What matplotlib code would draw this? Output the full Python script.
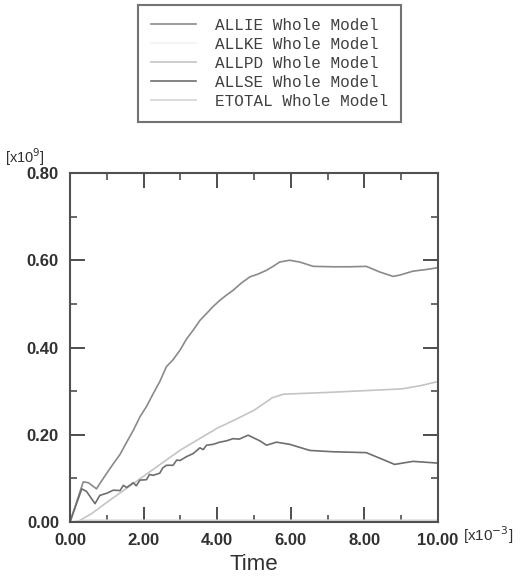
import numpy as np
import matplotlib
matplotlib.use('Agg')
import matplotlib.pyplot as plt
from matplotlib.lines import Line2D
from matplotlib.ticker import MultipleLocator, FormatStrFormatter

# Dados (tempo em x10^-3, energia em x10^9)
t_allie = [0.0, 0.36, 0.5, 0.72, 0.81, 1.0, 1.18, 1.36, 1.54, 1.72, 1.9, 2.08, 2.26, 2.44, 2.62,
           2.8, 2.99, 3.17, 3.35, 3.53, 3.71, 3.89, 4.07, 4.25, 4.43, 4.66, 4.89, 5.1, 5.34, 5.5,
           5.7, 5.97, 6.24, 6.61, 7.15, 7.6, 8.05, 8.42, 8.78, 8.96, 9.32, 9.7, 10.0]
allie = [0.0, 0.092, 0.09, 0.076, 0.088, 0.112, 0.134, 0.155, 0.183, 0.21, 0.241, 0.265, 0.294,
         0.322, 0.356, 0.372, 0.394, 0.42, 0.44, 0.462, 0.478, 0.494, 0.508, 0.52, 0.531, 0.548,
         0.562, 0.568, 0.577, 0.585, 0.596, 0.6, 0.596, 0.586, 0.585, 0.585, 0.586, 0.573,
         0.563, 0.566, 0.575, 0.579, 0.583]

t_allpd = [0.0, 0.2, 0.6, 1.0, 1.5, 2.0, 2.5, 3.0, 3.5, 4.0, 4.5, 5.0, 5.5, 5.8, 7.0, 8.0, 9.0, 9.5, 10.0]
allpd = [0.0, 0.0, 0.02, 0.045, 0.075, 0.105, 0.135, 0.165, 0.19, 0.215, 0.235, 0.256, 0.285,
         0.293, 0.297, 0.301, 0.305, 0.312, 0.322]

t_allse = [0.0, 0.32, 0.45, 0.68, 0.81, 1.0, 1.18, 1.36, 1.45, 1.54, 1.72, 1.8, 1.9, 2.08, 2.16,
           2.26, 2.44, 2.52, 2.62, 2.8, 2.9, 2.99, 3.17, 3.35, 3.53, 3.62, 3.71, 3.89, 4.07, 4.25,
           4.43, 4.6, 4.84, 5.16, 5.34, 5.61, 5.97, 6.52, 7.15, 8.05, 8.51, 8.82, 9.32, 10.0]
allse = [0.0, 0.076, 0.07, 0.042, 0.061, 0.066, 0.073, 0.072, 0.084, 0.079, 0.09, 0.083, 0.096,
         0.097, 0.109, 0.107, 0.112, 0.124, 0.13, 0.13, 0.142, 0.141, 0.15, 0.157, 0.17, 0.166,
         0.176, 0.178, 0.183, 0.186, 0.191, 0.19, 0.199, 0.186, 0.176, 0.183, 0.178, 0.164,
         0.161, 0.159, 0.143, 0.132, 0.139, 0.135]

t_allke = [0.0, 0.3, 1.0, 10.0]
allke = [0.0, 0.004, 0.002, 0.002]

t_etotal = [0.0, 0.5, 2.0, 10.0]
etotal = [0.0, 0.004, 0.004, 0.004]

rotulos = ['ALLIE Whole Model', 'ALLKE Whole Model', 'ALLPD Whole Model',
           'ALLSE Whole Model', 'ETOTAL Whole Model']
cores = ['#8a8a8a', '#f2f2f2', '#c4c4c4', '#6e6e6e', '#d6d6d6']

fig = plt.figure(figsize=(5.23, 5.80), dpi=100)
ax = fig.add_axes([70 / 523, 58 / 580, 368 / 523, 349 / 580])

series = [(t_allie, allie), (t_allke, allke), (t_allpd, allpd), (t_allse, allse), (t_etotal, etotal)]
for (t, v), c, r in zip(series, cores, rotulos):
    ax.plot(t, v, color=c, lw=1.2, label=r)

ax.set_xlim(0, 10)
ax.set_ylim(0, 0.8)
ax.xaxis.set_major_locator(MultipleLocator(2))
ax.xaxis.set_minor_locator(MultipleLocator(1))
ax.yaxis.set_major_locator(MultipleLocator(0.2))
ax.yaxis.set_minor_locator(MultipleLocator(0.1))
ax.xaxis.set_major_formatter(FormatStrFormatter('%.2f'))
ax.yaxis.set_major_formatter(FormatStrFormatter('%.2f'))

ax.tick_params(which='both', direction='in', top=True, right=True, color='#404040')
ax.tick_params(which='major', length=11, width=1.3, pad=8, labelsize=12, labelcolor='#303030')
ax.tick_params(which='minor', length=5, width=1.1)
for lab in ax.get_xticklabels() + ax.get_yticklabels():
    lab.set_fontfamily('Liberation Sans')
    lab.set_fontweight('bold')
for s in ax.spines.values():
    s.set_linewidth(1.5)
    s.set_color('#505050')

ax.text(-0.177, 1.045, r'[x10$^{9}$]', transform=ax.transAxes, fontsize=10.5,
        family='Liberation Sans', color='#303030', va='center', ha='left')
ax.text(1.068, -0.037, r'[x10$^{-3}$]', transform=ax.transAxes, fontsize=11,
        family='Liberation Sans', color='#303030', va='center', ha='left')
ax.set_xlabel('Time', fontsize=16, family='Liberation Sans', color='#303030', labelpad=4)

# Legenda no topo
handles = [Line2D([], [], color=c, lw=1.2) for c in cores]
leg = fig.legend(handles, rotulos, loc='upper left', bbox_to_anchor=(138 / 523, 1 - 5 / 580),
                 frameon=True, fancybox=False, borderaxespad=0, handlelength=2.8,
                 handletextpad=1.2, labelspacing=0.25, borderpad=0.8,
                 prop={'family': 'Liberation Mono', 'size': 11.5})
leg.get_frame().set_edgecolor('#505050')
leg.get_frame().set_linewidth(1.5)
for txt in leg.get_texts():
    txt.set_color('#404040')

plt.savefig('out.png', dpi=100)
